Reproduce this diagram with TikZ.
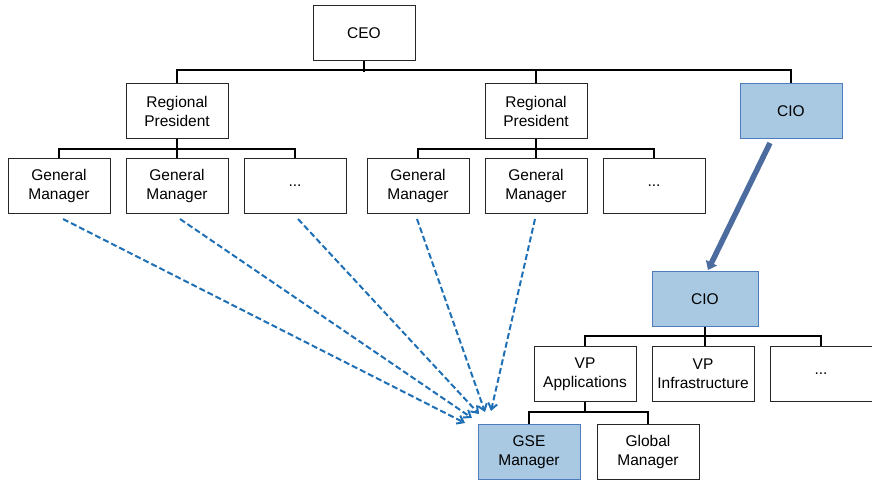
\documentclass[tikz,border=0pt]{standalone}
\usepackage{fontspec}
\setmainfont{Liberation Sans}
\usetikzlibrary{arrows.meta}
\definecolor{hifill}{RGB}{169,201,227}
\definecolor{hiborder}{RGB}{79,124,189}
\definecolor{dashblue}{RGB}{31,111,181}
\definecolor{bigarrow}{RGB}{76,108,160}
\tikzset{
  box/.style={draw=black!85,line width=1pt,fill=white,minimum width=102,minimum height=55,
    align=center,inner sep=1pt,font=\fontsize{15.5}{19}\selectfont},
  hibox/.style={box,draw=hiborder,fill=hifill},
  tree/.style={line width=2.2pt,black},
  feed/.style={dashblue,line width=2pt,dash pattern=on 6pt off 3pt,-{Straight Barb[length=6pt,width=9pt,line width=2pt]}}
}
\begin{document}
\begin{tikzpicture}[x=1pt,y=-1pt]
  \useasboundingbox (0,0) rectangle (872,480);
  % top level
  \node [box] (ceo) at (364,33) {CEO};
  \node [box] (rp1) at (177,111) {Regional\\President};
  \node [box] (rp2) at (536,111) {Regional\\President};
  \node [hibox] (cio1) at (791,111) {CIO};
  % general managers
  \node [box] (gm1) at (59,186) {General\\Manager};
  \node [box] (gm2) at (177,186) {General\\Manager};
  \node [box] (dots1) at (295,186) {...};
  \node [box] (gm3) at (418,186) {General\\Manager};
  \node [box] (gm4) at (536,186) {General\\Manager};
  \node [box] (dots2) at (654,186) {...};
  % IT organisation
  \node [hibox,minimum width=106] (cio2) at (705,299) {CIO};
  \node [box] (vpapp) at (585,374) {VP\\Applications};
  \node [box] (vpinf) at (703,374) {VP\\Infrastructure};
  \node [box] (dots3) at (821,374) {...};
  \node [hibox] (gse) at (529,452) {GSE\\Manager};
  \node [box] (glob) at (648,452) {Global\\Manager};

  % reporting lines
  \draw [tree] (ceo.south) -- ++(0,11);
  \draw [tree] (rp1.north) -- ++(0,-13) -| (cio1.north);
  \draw [tree] (rp2.north) -- ++(0,-13);
  \draw [tree] (gm1.north) -- ++(0,-9) -| (dots1.north);
  \draw [tree] (rp1.south) -- (gm2.north);
  \draw [tree] (gm3.north) -- ++(0,-9) -| (dots2.north);
  \draw [tree] (rp2.south) -- (gm4.north);
  \draw [tree] (vpapp.north) -- ++(0,-10) -| (dots3.north);
  \draw [tree] (cio2.south) -- (cio2.south |- vpinf.north);
  \draw [tree] (gse.north) -- ++(0,-12) -| (glob.north);
  \draw [tree] (vpapp.south) -- ++(0,11);

  % CIO moves into the IT tree
  \draw [bigarrow,line width=5.5pt,-{Triangle[length=8pt,width=12pt]}] (770,143) -- (708,270);

  % dotted-line reporting to GSE manager
  \draw [feed] (63,219) -- (465,423);
  \draw [feed] (180,219) -- (472,418);
  \draw [feed] (298,219) -- (479,414);
  \draw [feed] (417,219) -- (485,412);
  \draw [feed] (535,219) -- (491,411);
\end{tikzpicture}
\end{document}
